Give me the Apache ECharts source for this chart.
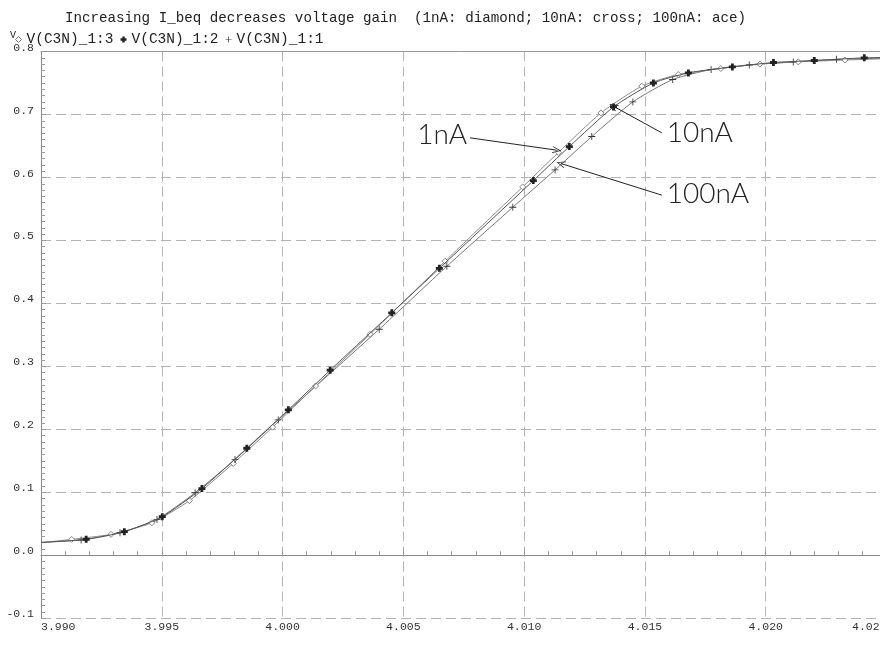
<!DOCTYPE html>
<html>
<head>
<meta charset="utf-8">
<script src="https://cdn.jsdelivr.net/npm/echarts@6/dist/echarts.min.js"></script>
<style>
  html, body { margin: 0; padding: 0; background: #fff; }
  #chart { width: 880px; height: 648px; }
</style>
</head>
<body>
<div id="chart"></div>
<script>
// Output voltage V(C3N) swept against input voltage, for three I_beq settings.
const titleText = 'Increasing I_beq decreases voltage gain  (1nA: diamond; 10nA: cross; 100nA: ace)';
const seriesNames = ['V(C3N)_1:3', 'V(C3N)_1:2', 'V(C3N)_1:1'];

// Axis ranges (volts)
const xRange = [3.990, 4.025, 0.005];
const yRange = [-0.1, 0.8, 0.1];

// 1nA trace: plain curve points and marker points
const curve1nA_x = [3.9900, 4.0077, 4.0250];
const curve1nA_y = [0.0200, 0.5030, 0.7885];
const mark1nA_x = [3.99127, 3.99290, 3.99459, 3.99614, 3.99796, 3.99959, 4.00137, 4.00362, 4.00673,
                   4.00994, 4.01142, 4.01318, 4.01487, 4.01638, 4.01814, 4.01976, 4.02135, 4.02328];
const mark1nA_y = [0.0254, 0.0333, 0.0517, 0.0867, 0.1460, 0.2035, 0.2690, 0.3510, 0.4670,
                   0.5850, 0.6397, 0.7025, 0.7450, 0.7635, 0.7730, 0.7800, 0.7835, 0.7865];

// 10nA trace
const curve10nA_x = [3.9900, 4.0250];
const curve10nA_y = [0.0205, 0.7905];
const mark10nA_x = [3.99187, 3.99345, 3.99502, 3.99666, 3.99852, 4.00024, 4.00197, 4.00452, 4.00649,
                    4.01038, 4.01187, 4.01370, 4.01535, 4.01680, 4.01862, 4.02032, 4.02201, 4.02408];
const mark10nA_y = [0.0254, 0.0375, 0.0613, 0.1060, 0.1700, 0.2310, 0.2940, 0.3850, 0.4557,
                    0.5950, 0.6490, 0.7120, 0.7500, 0.7660, 0.7755, 0.7825, 0.7857, 0.7900];

// 100nA trace
const curve100nA_x = [3.9900, 4.0250];
const curve100nA_y = [0.0205, 0.7895];
const mark100nA_x = [3.99166, 3.99327, 3.99480, 3.99638, 3.99803, 3.99982, 4.00400, 4.00680,
                     4.00953, 4.01128, 4.01280, 4.01450, 4.01615, 4.01774, 4.01932, 4.02114, 4.02293];
const mark100nA_y = [0.0243, 0.0359, 0.0570, 0.0994, 0.1520, 0.2150, 0.3590, 0.4590,
                     0.5527, 0.6120, 0.6650, 0.7200, 0.7555, 0.7714, 0.7787, 0.7835, 0.7875];

// Callouts: label, label anchor (x, y), arrow start (x, y), arrow tip (x, y)
const noteText = ['1nA', '10nA', '100nA'];
const noteAnchor_x = [4.00764, 4.01590, 4.01590];
const noteAnchor_y = [0.6671, 0.6711, 0.5735];
const arrowFrom_x = [4.00776, 4.01570, 4.01570];
const arrowFrom_y = [0.6629, 0.6708, 0.5719];
const arrowTo_x = [4.01135, 4.01369, 4.01152];
const arrowTo_y = [0.6433, 0.7132, 0.6222];

const MONO = 'Liberation Mono, DejaVu Sans Mono, monospace';
const boldCross = 'path://M3,0H7V3H10V7H7V10H3V7H0V3H3Z';
const thinPlus = 'path://M4.4,0H5.6V4.4H10V5.6H5.6V10H4.4V5.6H0V4.4H4.4Z';
const openArrow = 'path://M0,10L5,0L10,10L9,10.4L5,2.2L1,10.4Z';

function buildPoints(cx, cy, mx, my) {
  const pts = [];
  cx.forEach((x, i) => pts.push({ value: [x, cy[i]], symbol: 'none' }));
  mx.forEach((x, i) => pts.push({ value: [x, my[i]] }));
  pts.sort((a, b) => a.value[0] - b.value[0]);
  return pts;
}

const chart = echarts.init(document.getElementById('chart'), null, { renderer: 'canvas' });

const labelFmtX = v => v.toFixed(3);
const labelFmtY = v => v.toFixed(1);

chart.setOption({
  animation: false,
  backgroundColor: '#fff',
  title: {
    text: titleText,
    left: 60,
    top: 6,
    textStyle: { fontFamily: MONO, fontSize: 14.2, fontWeight: 'normal', color: '#222' }
  },
  legend: {
    left: 10,
    top: 27,
    itemWidth: 6,
    itemHeight: 6,
    itemGap: 7,
    selectedMode: false,
    textStyle: { fontFamily: MONO, fontSize: 14.5, color: '#222' },
    data: [
      { name: seriesNames[0], icon: 'diamond', itemStyle: { color: '#fff', borderColor: '#777', borderWidth: 1 } },
      { name: seriesNames[1], icon: boldCross, itemStyle: { color: '#222' } },
      { name: seriesNames[2], icon: thinPlus, itemStyle: { color: '#333' } }
    ]
  },
  grid: {
    left: 41, width: 845.5, top: 51.5, height: 566.8,
    containLabel: false, outerBoundsMode: 'none'
  },
  xAxis: [{
    type: 'value',
    min: xRange[0], max: xRange[1], interval: xRange[2],
    axisLine: { show: true, lineStyle: { color: '#888', width: 1 } },
    axisTick: { show: true, inside: true, length: 5, lineStyle: { color: '#999' } },
    minorTick: { show: true, splitNumber: 5, length: 4, lineStyle: { color: '#999' } },
    splitLine: { show: true, lineStyle: { color: '#b4b4b4', type: [10, 5], width: 1 } },
    axisLabel: {
      formatter: labelFmtX, fontFamily: MONO, fontSize: 11.5, color: '#333', margin: 3,
      alignMinLabel: 'left', alignMaxLabel: 'right'
    }
  }, {
    type: 'value', position: 'top',
    min: xRange[0], max: xRange[1], interval: xRange[2],
    axisLine: { show: true, lineStyle: { color: '#999', width: 1 } },
    axisTick: { show: false }, axisLabel: { show: false }, splitLine: { show: false }
  }],
  yAxis: {
    type: 'value',
    min: yRange[0], max: yRange[1], interval: yRange[2],
    name: 'V',
    nameLocation: 'end',
    nameGap: 11,
    nameTextStyle: { fontFamily: MONO, fontSize: 10, color: '#222', align: 'right', padding: [0, 25, 0, 0] },
    axisLine: { show: true, lineStyle: { color: '#888', width: 1 } },
    axisTick: { show: true, inside: true, length: 5, lineStyle: { color: '#999' } },
    minorTick: { show: true, splitNumber: 10, length: 4, lineStyle: { color: '#999' } },
    splitLine: { show: true, lineStyle: { color: '#b4b4b4', type: [10, 5], width: 1 } },
    axisLabel: {
      formatter: labelFmtY, fontFamily: MONO, fontSize: 11.5, color: '#333', margin: 7,
      verticalAlign: 'bottom', lineHeight: 8
    }
  },
  series: [
    {
      name: seriesNames[0], type: 'line', smooth: 0.2,
      data: buildPoints(curve1nA_x, curve1nA_y, mark1nA_x, mark1nA_y),
      symbol: 'diamond', symbolSize: 6,
      lineStyle: { color: '#8c8c8c', width: 1 },
      itemStyle: { color: '#fff', borderColor: '#888', borderWidth: 1 },
      z: 3
    },
    {
      name: seriesNames[1], type: 'line', smooth: 0.2,
      data: buildPoints(curve10nA_x, curve10nA_y, mark10nA_x, mark10nA_y),
      symbol: boldCross, symbolSize: 7,
      lineStyle: { color: '#555', width: 1 },
      itemStyle: { color: '#222' },
      z: 4
    },
    {
      name: seriesNames[2], type: 'line', smooth: 0.2,
      data: buildPoints(curve100nA_x, curve100nA_y, mark100nA_x, mark100nA_y),
      symbol: thinPlus, symbolSize: 7,
      lineStyle: { color: '#777', width: 1 },
      itemStyle: { color: '#333' },
      z: 3
    },
    {
      // zero reference line and the callouts
      name: 'notes', type: 'line', data: [],
      markLine: {
        silent: true, animation: false,
        label: { show: false },
        emphasis: { disabled: true },
        symbol: ['none', openArrow],
        symbolSize: [7, 9],
        lineStyle: { color: '#222', type: 'solid', width: 1 },
        data: [
          [{ xAxis: xRange[0], yAxis: 0, symbol: 'none', lineStyle: { color: '#888' } },
           { xAxis: xRange[1], yAxis: 0, symbol: 'none' }],
          ...noteText.map((t, i) => [
            { coord: [arrowFrom_x[i], arrowFrom_y[i]] },
            { coord: [arrowTo_x[i], arrowTo_y[i]] }
          ])
        ]
      },
      markPoint: {
        silent: true, animation: false,
        symbol: 'circle', symbolSize: 0,
        label: {
          show: true, fontFamily: 'Lato, Noto Sans, sans-serif', fontWeight: 300,
          fontSize: 28, color: '#222', distance: 0
        },
        data: noteText.map((t, i) => ({
          coord: [noteAnchor_x[i], noteAnchor_y[i]],
          label: { formatter: t, position: i === 0 ? 'left' : 'right' }
        }))
      }
    }
  ]
});
</script>
</body>
</html>
